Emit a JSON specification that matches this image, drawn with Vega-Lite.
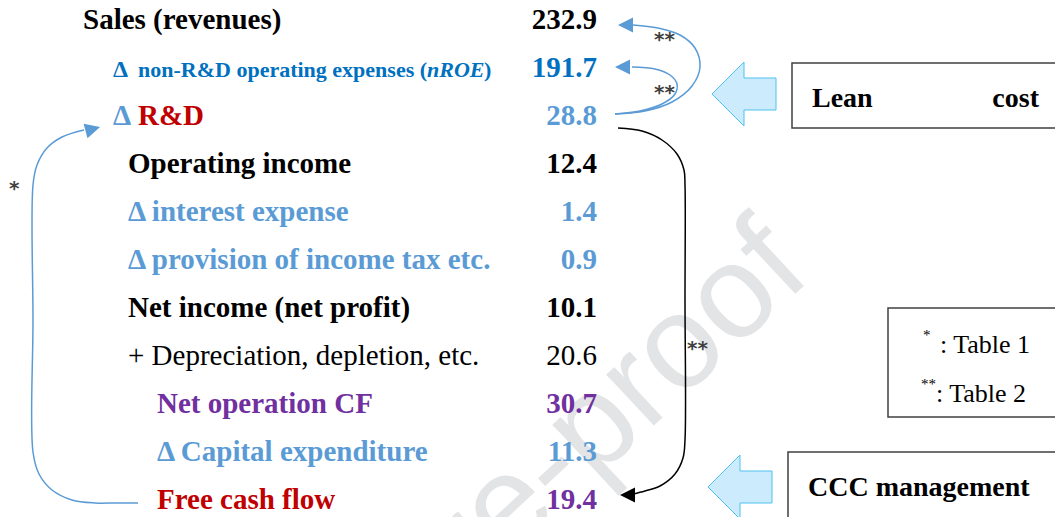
{
  "$schema": "https://vega.github.io/schema/vega-lite/v6.json",
  "width": 1055,
  "height": 517,
  "autosize": {"type": "none"},
  "padding": 0,
  "background": "white",
  "config": {"view": {"stroke": null}},
  "datasets": {
    "labels": [
      {"row": 0, "level": 0, "text": "Sales (revenues)", "role": "total", "part": "bold"},
      {"row": 1, "level": 1, "text": "Δ", "role": "nroe", "part": "delta1"},
      {"row": 1, "level": 1, "text": "non-R&D operating expenses (", "role": "nroe", "part": "nroe"},
      {"row": 1, "level": 1, "text": "nROE", "role": "nroe", "part": "nroeItalic"},
      {"row": 1, "level": 1, "text": ")", "role": "nroe", "part": "nroeClose"},
      {"row": 2, "level": 1, "text": "Δ", "role": "delta", "part": "bold"},
      {"row": 2, "level": 1, "text": "R&D", "role": "rd", "part": "rd"},
      {"row": 3, "level": 2, "text": "Operating income", "role": "total", "part": "bold"},
      {"row": 4, "level": 2, "text": "Δ interest expense", "role": "delta", "part": "bold"},
      {"row": 5, "level": 2, "text": "Δ provision of income tax etc.", "role": "delta", "part": "bold"},
      {"row": 6, "level": 2, "text": "Net income (net profit)", "role": "total", "part": "bold"},
      {"row": 7, "level": 2, "text": "+ Depreciation, depletion, etc.", "role": "total", "part": "regular"},
      {"row": 8, "level": 3, "text": "Net operation CF", "role": "cf", "part": "bold"},
      {"row": 9, "level": 3, "text": "Δ Capital expenditure", "role": "delta", "part": "bold"},
      {"row": 10, "level": 3, "text": "Free cash flow", "role": "rd", "part": "bold"}
    ],
    "values": [
      {"row": 0, "value": 232.9, "role": "total", "weight": "bold"},
      {"row": 1, "value": 191.7, "role": "nroe", "weight": "bold"},
      {"row": 2, "value": 28.8, "role": "delta", "weight": "bold"},
      {"row": 3, "value": 12.4, "role": "total", "weight": "bold"},
      {"row": 4, "value": 1.4, "role": "delta", "weight": "bold"},
      {"row": 5, "value": 0.9, "role": "delta", "weight": "bold"},
      {"row": 6, "value": 10.1, "role": "total", "weight": "bold"},
      {"row": 7, "value": 20.6, "role": "total", "weight": "regular"},
      {"row": 8, "value": 30.7, "role": "cf", "weight": "bold"},
      {"row": 9, "value": 11.3, "role": "delta", "weight": "bold"},
      {"row": 10, "value": 19.4, "role": "cf", "weight": "bold"}
    ],
    "watermark": [{"x": 585, "y": 435, "text": "Pre-proof"}],
    "blocks": [{"x": 744, "y": 94}, {"x": 740, "y": 487}],
    "boxes": [
      {"x": 792, "x2": 1062, "y": 63, "y2": 128},
      {"x": 888, "x2": 1062, "y": 308, "y2": 417},
      {"x": 788, "x2": 1062, "y": 452, "y2": 530}
    ],
    "curves": [
      {"path": "outer", "tone": "blue", "i": 0, "x": 615, "y": 114},
      {"path": "outer", "tone": "blue", "i": 1, "x": 645, "y": 111},
      {"path": "outer", "tone": "blue", "i": 2, "x": 672, "y": 102},
      {"path": "outer", "tone": "blue", "i": 3, "x": 692, "y": 86},
      {"path": "outer", "tone": "blue", "i": 4, "x": 700, "y": 67},
      {"path": "outer", "tone": "blue", "i": 5, "x": 695, "y": 48},
      {"path": "outer", "tone": "blue", "i": 6, "x": 680, "y": 35},
      {"path": "outer", "tone": "blue", "i": 7, "x": 658, "y": 28},
      {"path": "outer", "tone": "blue", "i": 8, "x": 633, "y": 25},
      {"path": "inner", "tone": "blue", "i": 0, "x": 615, "y": 114},
      {"path": "inner", "tone": "blue", "i": 1, "x": 640, "y": 111},
      {"path": "inner", "tone": "blue", "i": 2, "x": 662, "y": 104},
      {"path": "inner", "tone": "blue", "i": 3, "x": 675, "y": 94},
      {"path": "inner", "tone": "blue", "i": 4, "x": 677, "y": 84},
      {"path": "inner", "tone": "blue", "i": 5, "x": 670, "y": 75},
      {"path": "inner", "tone": "blue", "i": 6, "x": 655, "y": 69},
      {"path": "inner", "tone": "blue", "i": 7, "x": 632, "y": 67},
      {"path": "black", "tone": "black", "i": 0, "x": 618, "y": 128},
      {"path": "black", "tone": "black", "i": 1, "x": 642, "y": 131},
      {"path": "black", "tone": "black", "i": 2, "x": 662, "y": 140},
      {"path": "black", "tone": "black", "i": 3, "x": 677, "y": 154},
      {"path": "black", "tone": "black", "i": 4, "x": 684, "y": 170},
      {"path": "black", "tone": "black", "i": 5, "x": 685, "y": 185},
      {"path": "black", "tone": "black", "i": 6, "x": 685, "y": 300},
      {"path": "black", "tone": "black", "i": 7, "x": 685, "y": 440},
      {"path": "black", "tone": "black", "i": 8, "x": 683, "y": 458},
      {"path": "black", "tone": "black", "i": 9, "x": 675, "y": 474},
      {"path": "black", "tone": "black", "i": 10, "x": 660, "y": 486},
      {"path": "black", "tone": "black", "i": 11, "x": 645, "y": 491},
      {"path": "black", "tone": "black", "i": 12, "x": 633, "y": 494},
      {"path": "left", "tone": "blue", "i": 0, "x": 138, "y": 503},
      {"path": "left", "tone": "blue", "i": 1, "x": 115, "y": 503},
      {"path": "left", "tone": "blue", "i": 2, "x": 95, "y": 503},
      {"path": "left", "tone": "blue", "i": 3, "x": 72, "y": 500},
      {"path": "left", "tone": "blue", "i": 4, "x": 52, "y": 490},
      {"path": "left", "tone": "blue", "i": 5, "x": 39, "y": 474},
      {"path": "left", "tone": "blue", "i": 6, "x": 33, "y": 452},
      {"path": "left", "tone": "blue", "i": 7, "x": 33, "y": 320},
      {"path": "left", "tone": "blue", "i": 8, "x": 33, "y": 185},
      {"path": "left", "tone": "blue", "i": 9, "x": 37, "y": 165},
      {"path": "left", "tone": "blue", "i": 10, "x": 47, "y": 148},
      {"path": "left", "tone": "blue", "i": 11, "x": 62, "y": 137},
      {"path": "left", "tone": "blue", "i": 12, "x": 84, "y": 130}
    ],
    "heads": [
      {"x": 625.5, "y": 25, "tone": "blue", "dir": "left"},
      {"x": 622.5, "y": 67, "tone": "blue", "dir": "left"},
      {"x": 627.5, "y": 495, "tone": "black", "dir": "left"},
      {"x": 92.8, "y": 129, "tone": "blue", "dir": "right"}
    ],
    "stars": [
      {"x": 654, "y": 46, "text": "**"},
      {"x": 654, "y": 99, "text": "**"},
      {"x": 687, "y": 355, "text": "**"},
      {"x": 9, "y": 195, "text": "*"}
    ],
    "boxText": [
      {"x": 812, "y": 107, "text": "Lean", "kind": "boldLeft"},
      {"x": 1039, "y": 107, "text": "cost", "kind": "boldRight"},
      {"x": 808, "y": 496, "text": "CCC management", "kind": "boldLeft"},
      {"x": 940, "y": 353, "text": ": Table 1", "kind": "note"},
      {"x": 936, "y": 402, "text": ": Table 2", "kind": "note"},
      {"x": 923, "y": 340, "text": "*", "kind": "sup"},
      {"x": 921, "y": 389, "text": "**", "kind": "sup"}
    ]
  },
  "resolve": {"scale": {"x": "independent", "y": "independent", "color": "independent"}},
  "layer": [
    {
      "layer": [
        {
          "data": {"name": "watermark"},
          "mark": {"type": "text", "font": "Liberation Sans", "fontSize": 132, "angle": -43, "align": "center", "baseline": "middle", "color": "#E3E4E6"},
          "encoding": {
            "x": {"field": "x", "type": "quantitative", "scale": {"domain": [0, 1055], "nice": false, "zero": false}, "axis": null},
            "y": {"field": "y", "type": "quantitative", "scale": {"domain": [0, 517], "reverse": true, "nice": false, "zero": false}, "axis": null},
            "text": {"field": "text"}
          }
        },
        {
          "data": {"name": "boxes"},
          "mark": {"type": "rect", "fill": "white", "stroke": "#404040", "strokeWidth": 1.5},
          "encoding": {
            "x": {"field": "x", "type": "quantitative", "scale": {"domain": [0, 1055], "nice": false, "zero": false}, "axis": null},
            "x2": {"field": "x2"},
            "y": {"field": "y", "type": "quantitative", "scale": {"domain": [0, 517], "reverse": true, "nice": false, "zero": false}, "axis": null},
            "y2": {"field": "y2"}
          }
        },
        {
          "data": {"name": "blocks"},
          "mark": {"type": "point", "shape": "M-1,0L0,-1L0,-0.5L1,-0.5L1,0.5L0,0.5L0,1Z", "size": 4096, "filled": true, "fill": "#CCEBFC", "stroke": "#4FC1F0", "strokeWidth": 1, "opacity": 1},
          "encoding": {
            "x": {"field": "x", "type": "quantitative", "axis": null},
            "y": {"field": "y", "type": "quantitative", "axis": null}
          }
        },
        {
          "data": {"name": "curves"},
          "mark": {"type": "line", "interpolate": "catmull-rom", "strokeWidth": 1.5},
          "encoding": {
            "x": {"field": "x", "type": "quantitative", "axis": null},
            "y": {"field": "y", "type": "quantitative", "axis": null},
            "detail": {"field": "path"},
            "order": {"field": "i", "type": "quantitative"},
            "color": {"field": "tone", "type": "nominal", "scale": {"domain": ["blue", "black"], "range": ["#5B9BD5", "#000000"]}, "legend": null}
          }
        },
        {
          "data": {"name": "heads"},
          "transform": [{"filter": "datum.dir === 'left'"}],
          "mark": {"type": "point", "shape": "M-1,0L1,-1L1,1Z", "size": 225, "filled": true, "opacity": 1},
          "encoding": {
            "x": {"field": "x", "type": "quantitative", "axis": null},
            "y": {"field": "y", "type": "quantitative", "axis": null},
            "color": {"field": "tone", "type": "nominal", "scale": {"domain": ["blue", "black"], "range": ["#5B9BD5", "#000000"]}, "legend": null}
          }
        },
        {
          "data": {"name": "heads"},
          "transform": [{"filter": "datum.dir === 'right'"}],
          "mark": {"type": "point", "shape": "M1,0L-1,-1L-1,1Z", "size": 225, "filled": true, "opacity": 1, "angle": -15},
          "encoding": {
            "x": {"field": "x", "type": "quantitative", "axis": null},
            "y": {"field": "y", "type": "quantitative", "axis": null},
            "color": {"field": "tone", "type": "nominal", "scale": {"domain": ["blue", "black"], "range": ["#5B9BD5", "#000000"]}, "legend": null}
          }
        },
        {
          "data": {"name": "stars"},
          "mark": {"type": "text", "font": "DejaVu Sans", "fontWeight": "bold", "fontSize": 20, "align": "left", "baseline": "alphabetic", "color": "#404040"},
          "encoding": {
            "x": {"field": "x", "type": "quantitative", "axis": null},
            "y": {"field": "y", "type": "quantitative", "axis": null},
            "text": {"field": "text"}
          }
        },
        {
          "data": {"name": "boxText"},
          "transform": [{"filter": "datum.kind === 'boldLeft'"}],
          "mark": {"type": "text", "font": "Liberation Serif", "fontWeight": "bold", "fontSize": 28, "align": "left", "baseline": "alphabetic", "color": "#000000"},
          "encoding": {
            "x": {"field": "x", "type": "quantitative", "axis": null},
            "y": {"field": "y", "type": "quantitative", "axis": null},
            "text": {"field": "text"}
          }
        },
        {
          "data": {"name": "boxText"},
          "transform": [{"filter": "datum.kind === 'boldRight'"}],
          "mark": {"type": "text", "font": "Liberation Serif", "fontWeight": "bold", "fontSize": 28, "align": "right", "baseline": "alphabetic", "color": "#000000"},
          "encoding": {
            "x": {"field": "x", "type": "quantitative", "axis": null},
            "y": {"field": "y", "type": "quantitative", "axis": null},
            "text": {"field": "text"}
          }
        },
        {
          "data": {"name": "boxText"},
          "transform": [{"filter": "datum.kind === 'note'"}],
          "mark": {"type": "text", "font": "Liberation Serif", "fontSize": 26, "align": "left", "baseline": "alphabetic", "color": "#000000"},
          "encoding": {
            "x": {"field": "x", "type": "quantitative", "axis": null},
            "y": {"field": "y", "type": "quantitative", "axis": null},
            "text": {"field": "text"}
          }
        },
        {
          "data": {"name": "boxText"},
          "transform": [{"filter": "datum.kind === 'sup'"}],
          "mark": {"type": "text", "font": "Liberation Serif", "fontSize": 15, "align": "left", "baseline": "alphabetic", "color": "#000000"},
          "encoding": {
            "x": {"field": "x", "type": "quantitative", "axis": null},
            "y": {"field": "y", "type": "quantitative", "axis": null},
            "text": {"field": "text"}
          }
        }
      ]
    },
    {
      "layer": [
        {
          "data": {"name": "labels"},
          "transform": [{"filter": "datum.part === 'bold'"}],
          "mark": {"type": "text", "font": "Liberation Serif", "fontWeight": "bold", "fontSize": 29, "align": "left", "baseline": "alphabetic"},
          "encoding": {
            "x": {"field": "level", "type": "quantitative", "scale": {"domain": [0, 1, 2, 3, 4], "range": [83, 113, 128, 157, 597], "nice": false, "zero": false}, "axis": null},
            "y": {"field": "row", "type": "quantitative", "scale": {"domain": [-0.604, 10.167], "reverse": true, "nice": false, "zero": false}, "axis": null},
            "text": {"field": "text"},
            "color": {"field": "role", "type": "nominal", "scale": {"domain": ["total", "nroe", "rd", "delta", "cf"], "range": ["#000000", "#0070C0", "#C00000", "#5B9BD5", "#7030A0"]}, "legend": null}
          }
        },
        {
          "data": {"name": "labels"},
          "transform": [{"filter": "datum.part === 'regular'"}],
          "mark": {"type": "text", "font": "Liberation Serif", "fontSize": 29, "align": "left", "baseline": "alphabetic"},
          "encoding": {
            "x": {"field": "level", "type": "quantitative", "axis": null},
            "y": {"field": "row", "type": "quantitative", "axis": null},
            "text": {"field": "text"},
            "color": {"field": "role", "type": "nominal", "legend": null}
          }
        },
        {
          "data": {"name": "labels"},
          "transform": [{"filter": "datum.part === 'delta1'"}],
          "mark": {"type": "text", "font": "Liberation Serif", "fontWeight": "bold", "fontSize": 24, "align": "left", "baseline": "alphabetic"},
          "encoding": {
            "x": {"field": "level", "type": "quantitative", "axis": null},
            "y": {"field": "row", "type": "quantitative", "axis": null},
            "text": {"field": "text"},
            "color": {"field": "role", "type": "nominal", "legend": null}
          }
        },
        {
          "data": {"name": "labels"},
          "transform": [{"filter": "datum.part === 'nroe'"}],
          "mark": {"type": "text", "font": "Liberation Serif", "fontWeight": "bold", "fontSize": 22, "align": "left", "baseline": "alphabetic", "dx": 25},
          "encoding": {
            "x": {"field": "level", "type": "quantitative", "axis": null},
            "y": {"field": "row", "type": "quantitative", "axis": null},
            "text": {"field": "text"},
            "color": {"field": "role", "type": "nominal", "legend": null}
          }
        },
        {
          "data": {"name": "labels"},
          "transform": [{"filter": "datum.part === 'nroeItalic'"}],
          "mark": {"type": "text", "font": "Liberation Serif", "fontWeight": "bold", "fontStyle": "italic", "fontSize": 22, "align": "left", "baseline": "alphabetic", "dx": 314},
          "encoding": {
            "x": {"field": "level", "type": "quantitative", "axis": null},
            "y": {"field": "row", "type": "quantitative", "axis": null},
            "text": {"field": "text"},
            "color": {"field": "role", "type": "nominal", "legend": null}
          }
        },
        {
          "data": {"name": "labels"},
          "transform": [{"filter": "datum.part === 'nroeClose'"}],
          "mark": {"type": "text", "font": "Liberation Serif", "fontWeight": "bold", "fontSize": 22, "align": "left", "baseline": "alphabetic", "dx": 371},
          "encoding": {
            "x": {"field": "level", "type": "quantitative", "axis": null},
            "y": {"field": "row", "type": "quantitative", "axis": null},
            "text": {"field": "text"},
            "color": {"field": "role", "type": "nominal", "legend": null}
          }
        },
        {
          "data": {"name": "labels"},
          "transform": [{"filter": "datum.part === 'rd'"}],
          "mark": {"type": "text", "font": "Liberation Serif", "fontWeight": "bold", "fontSize": 29, "align": "left", "baseline": "alphabetic", "dx": 25},
          "encoding": {
            "x": {"field": "level", "type": "quantitative", "axis": null},
            "y": {"field": "row", "type": "quantitative", "axis": null},
            "text": {"field": "text"},
            "color": {"field": "role", "type": "nominal", "legend": null}
          }
        },
        {
          "data": {"name": "values"},
          "transform": [{"filter": "datum.weight === 'bold'"}],
          "mark": {"type": "text", "font": "Liberation Serif", "fontWeight": "bold", "fontSize": 29, "align": "right", "baseline": "alphabetic"},
          "encoding": {
            "x": {"datum": 4, "type": "quantitative", "axis": null},
            "y": {"field": "row", "type": "quantitative", "axis": null},
            "text": {"field": "value", "type": "quantitative", "format": ".1f"},
            "color": {"field": "role", "type": "nominal", "legend": null}
          }
        },
        {
          "data": {"name": "values"},
          "transform": [{"filter": "datum.weight === 'regular'"}],
          "mark": {"type": "text", "font": "Liberation Serif", "fontSize": 29, "align": "right", "baseline": "alphabetic"},
          "encoding": {
            "x": {"datum": 4, "type": "quantitative", "axis": null},
            "y": {"field": "row", "type": "quantitative", "axis": null},
            "text": {"field": "value", "type": "quantitative", "format": ".1f"},
            "color": {"field": "role", "type": "nominal", "legend": null}
          }
        }
      ]
    }
  ]
}
